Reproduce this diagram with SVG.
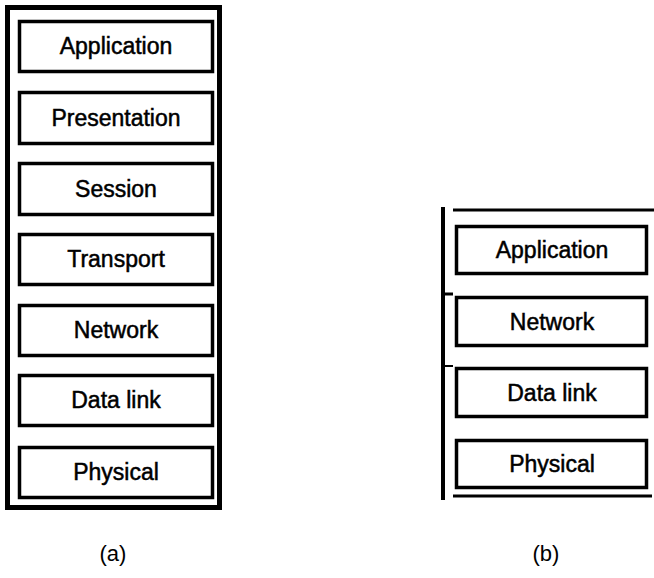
<svg xmlns="http://www.w3.org/2000/svg" width="654" height="578" viewBox="0 0 654 578">
<style>
.box{fill:#fff;stroke:#000;stroke-width:3.5}
.t{font-family:"Liberation Sans",Arial,sans-serif;font-size:23px;fill:#000;stroke:#000;stroke-width:0.5;text-anchor:middle}
.cap{font-family:"Liberation Sans",Arial,sans-serif;font-size:22px;fill:#000;text-anchor:middle}
</style>
<rect width="654" height="578" fill="#fff"/>
<g id="stack-a">
<rect x="7.5" y="7.5" width="212" height="500" fill="none" stroke="#000" stroke-width="5"/>
</g>
<g id="a-application"><rect class="box" x="19.5" y="21.5" width="193" height="50"/><text class="t" x="116" y="54">Application</text></g>
<g id="a-presentation"><rect class="box" x="19.5" y="92.5" width="193" height="51"/><text class="t" x="116" y="126">Presentation</text></g>
<g id="a-session"><rect class="box" x="19.5" y="163.5" width="193" height="51"/><text class="t" x="116" y="197">Session</text></g>
<g id="a-transport"><rect class="box" x="19.5" y="234.5" width="193" height="50"/><text class="t" x="116" y="267">Transport</text></g>
<g id="a-network"><rect class="box" x="19.5" y="305.5" width="193" height="50"/><text class="t" x="116" y="338">Network</text></g>
<g id="a-datalink"><rect class="box" x="19.5" y="375.5" width="193" height="50"/><text class="t" x="116" y="408">Data link</text></g>
<g id="a-physical"><rect class="box" x="19.5" y="447.5" width="193" height="50"/><text class="t" x="116" y="480">Physical</text></g>
<g id="stack-b">
<line x1="443" y1="207" x2="443" y2="500" stroke="#000" stroke-width="4"/>
<line x1="453" y1="210" x2="654" y2="210" stroke="#000" stroke-width="3"/>
<line x1="453" y1="496" x2="652" y2="496" stroke="#000" stroke-width="3"/>
<line x1="443" y1="294" x2="453" y2="294" stroke="#000" stroke-width="3"/>
<line x1="443" y1="366" x2="453" y2="366" stroke="#000" stroke-width="2"/>
</g>
<g id="b-application"><rect class="box" x="456.5" y="226.5" width="190" height="47"/><text class="t" x="552" y="258">Application</text></g>
<g id="b-network"><rect class="box" x="456.5" y="297.5" width="190" height="48"/><text class="t" x="552" y="330">Network</text></g>
<g id="b-datalink"><rect class="box" x="456.5" y="368.5" width="190" height="48"/><text class="t" x="552" y="401">Data link</text></g>
<g id="b-physical"><rect class="box" x="456.5" y="440.5" width="190" height="47"/><text class="t" x="552" y="472">Physical</text></g>
<text class="cap" x="113" y="561">(a)</text>
<text class="cap" x="546" y="561">(b)</text>
</svg>
